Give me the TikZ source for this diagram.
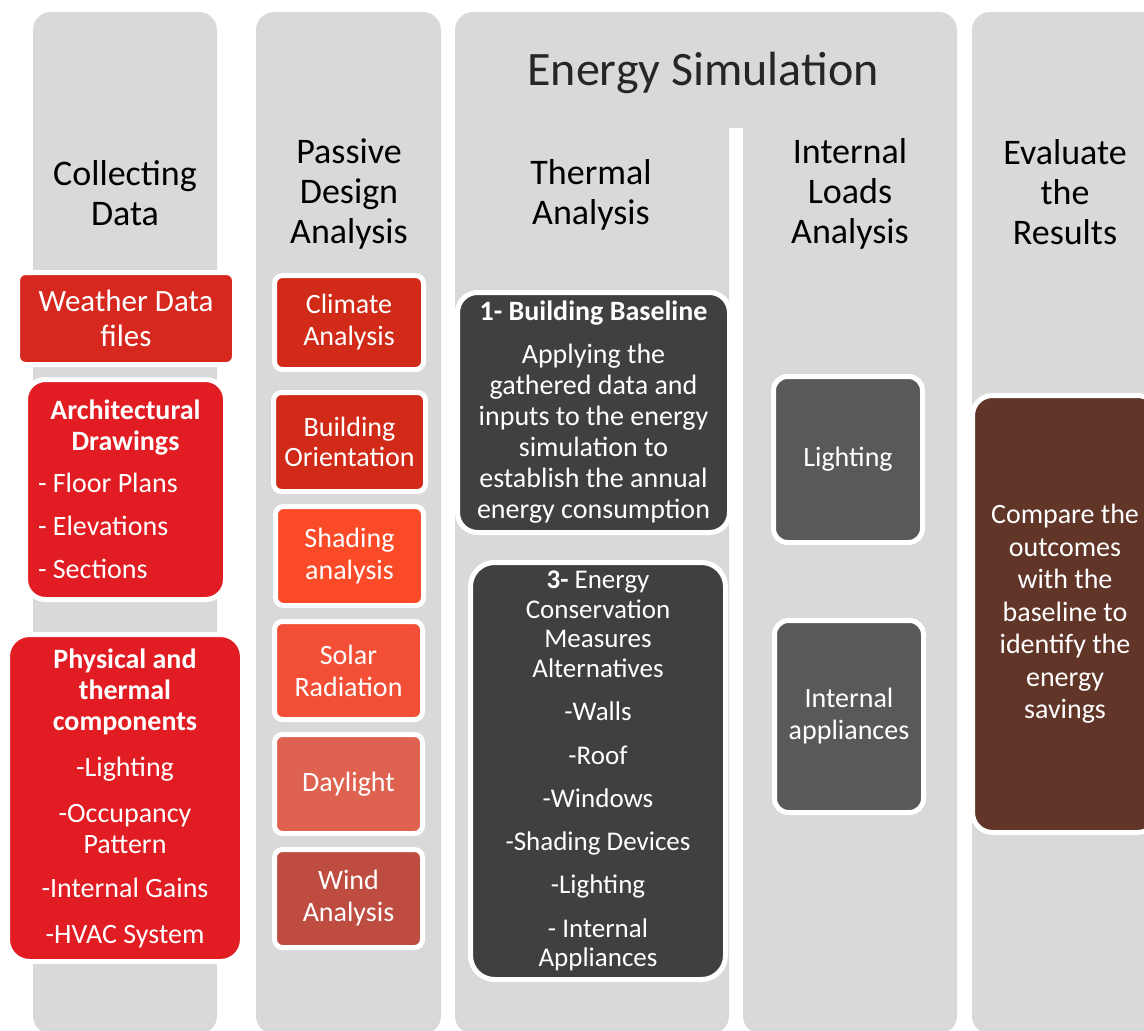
\documentclass[tikz,border=0pt]{standalone}
\usepackage{fontspec}
\setmainfont{Carlito}
\definecolor{colgray}{HTML}{D9D9D9}
\definecolor{titlegray}{HTML}{262626}
\definecolor{weatherred}{HTML}{D6281E}
\definecolor{archred}{HTML}{E11C22}
\definecolor{climred}{HTML}{D12A18}
\definecolor{shadered}{HTML}{FB4A27}
\definecolor{solarred}{HTML}{F34F36}
\definecolor{dayred}{HTML}{DF6251}
\definecolor{windred}{HTML}{BE4C41}
\definecolor{darkbox}{HTML}{404040}
\definecolor{loadbox}{HTML}{595959}
\definecolor{brownbox}{HTML}{613629}

\begin{document}
\begin{tikzpicture}[x=1pt,y=-1pt,
    col/.style={fill=colgray,rounded corners=18pt},
    hdr/.style={align=center,font=\fontsize{36}{40}\selectfont},
    box/.style={draw=white,line width=5pt,rounded corners=#1,text=white,
      align=center,inner sep=0pt,font=\fontsize{28}{31}\selectfont},
    box/.default=8pt]

\clip (0,0) rectangle (1144,1031);

% background columns
\fill[col] (33,12) rectangle (217,1034);
\fill[col] (256,12) rectangle (441,1034);
\fill[col] (455,12) rectangle (729,1034);
\fill[col] (743,12) rectangle (957,1034);
\fill[colgray] (700,12) rectangle (790,128);
\fill[col] (972,12) rectangle (1190,1034);

% headings
\node[hdr] (collect) at (125,193) {Collecting\\Data};
\node[hdr] (passive) at (349,194) {Passive\\Design\\Analysis};
\node[hdr,text=titlegray,font=\fontsize{48}{52}\selectfont] (energy) at (703,73) {Energy Simulation};
\node[hdr] (thermal) at (591,195) {Thermal\\Analysis};
\node[hdr] (loads) at (850,194) {Internal\\Loads\\Analysis};
\node[hdr] (evaluate) at (1065,192) {Evaluate\\the\\Results};

% collecting data
\node[box,fill=weatherred,minimum width=217,minimum height=92,
  font=\fontsize{31}{35}\selectfont] (weather) at (126,318.5) {Weather Data\\files};
\node[box=20pt,fill=archred,minimum width=200,minimum height=220,
  text width=175pt,align=flush left] (arch) at (125.5,489.5)
  {{\centering\bfseries Architectural\\Drawings\par}\vspace{11pt}%
   - Floor Plans\par\vspace{12pt}- Elevations\par\vspace{12pt}- Sections};
\node[box=22pt,fill=archred,minimum width=235,minimum height=327] (phys) at (125,798)
  {\textbf{Physical and}\\\textbf{thermal}\\\textbf{components}\\[15pt]-Lighting\\[15pt]-Occupancy\\Pattern\\[13pt]-Internal Gains\\[15pt]-HVAC System};

% passive design
\node[box,fill=climred,minimum width=149,minimum height=94,
  font=\fontsize{28}{32}\selectfont] (climate) at (349,322.5) {Climate\\Analysis};
\node[box,fill=climred,minimum width=152,minimum height=99,
  font=\fontsize{28}{30}\selectfont] (orient) at (349.5,442) {Building\\Orientation};
\node[box,fill=shadered,minimum width=148,minimum height=99,
  font=\fontsize{28}{32}\selectfont] (shading) at (349.5,556) {Shading\\analysis};
\node[box,fill=solarred,minimum width=148,minimum height=98,
  font=\fontsize{28}{32}\selectfont] (solar) at (348.5,670.5) {Solar\\Radiation};
\node[box,fill=dayred,minimum width=148,minimum height=99] (daylight) at (348.5,784) {Daylight};
\node[box,fill=windred,minimum width=148,minimum height=98,
  font=\fontsize{28}{32}\selectfont] (wind) at (348.5,898.5) {Wind\\Analysis};

% thermal analysis
\node[box=20pt,fill=darkbox,minimum width=272,minimum height=240] (base) at (593.5,412.5)
  {\textbf{1- Building Baseline}\\[12pt]Applying the\\gathered data and\\inputs to the energy\\simulation to\\establish the annual\\energy consumption};
\node[box=24pt,fill=darkbox,minimum width=255,minimum height=417,
  font=\fontsize{27}{29.5}\selectfont] (ecm) at (598,771)
  {\textbf{3-} Energy\\Conservation\\Measures\\Alternatives\\[14pt]-Walls\\[14pt]-Roof\\[14pt]-Windows\\[13pt]-Shading Devices\\[14pt]-Lighting\\[14pt]- Internal\\Appliances};

% internal loads
\node[box=14pt,fill=loadbox,minimum width=149,minimum height=166] (light) at (848,459.5) {Lighting};
\node[box=14pt,fill=loadbox,minimum width=149,minimum height=192,
  font=\fontsize{28}{32}\selectfont] (appl) at (849,716.5) {Internal\\appliances};

% results
\node[box=20pt,fill=brownbox,minimum width=185,minimum height=437,
  font=\fontsize{28}{32.5}\selectfont] (compare) at (1065,614)
  {Compare the\\outcomes\\with the\\baseline to\\identify the\\energy\\savings};

\end{tikzpicture}
\end{document}
